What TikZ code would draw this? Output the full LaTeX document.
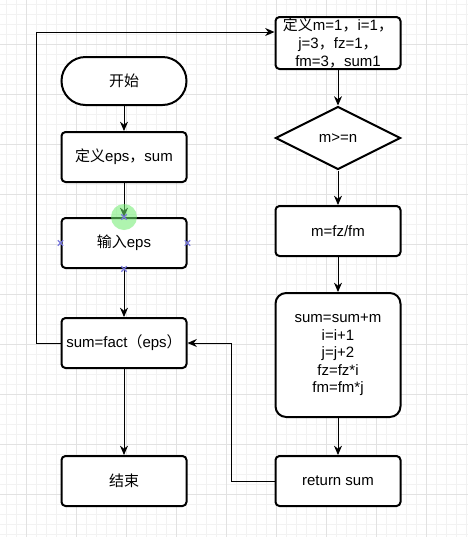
\documentclass[tikz,border=0pt]{standalone}
\usepackage{fontspec}
\setmainfont{Liberation Sans}
\newfontfamily\cjk{Noto Sans CJK SC}
\usetikzlibrary{shapes.geometric,arrows.meta}
\definecolor{minorgrid}{RGB}{242,242,242}
\definecolor{majorgrid}{RGB}{226,226,226}
\definecolor{hilite}{RGB}{110,235,110}
\definecolor{handle}{RGB}{120,120,220}
\tikzset{box/.style={draw=black, line width=1.5pt, rounded corners=3pt, fill=white,
    minimum width=93.75pt, minimum height=37.5pt, inner sep=0pt, align=center,
    font=\fontsize{11.25}{13.2}\selectfont},
  decide/.style={box, diamond, rounded corners=0pt, minimum width=93.75pt, minimum height=47.25pt},
  link/.style={draw=black, line width=0.75pt, -{Stealth[length=7pt,width=6pt]}},
  handlemark/.style={draw=handle, line width=0.9pt}}

\begin{document}
\begin{tikzpicture}[x=0.75pt, y=-0.75pt]
  \useasboundingbox (0,0) rectangle (468,537);
  % background grid
  \foreach \gx in {6,16,...,466} \draw[minorgrid, line width=0.5pt] (\gx,0) -- (\gx,537);
  \foreach \gy in {4,14,...,534} \draw[minorgrid, line width=0.5pt] (0,\gy) -- (468,\gy);
  \foreach \gx in {26,76,...,426} \draw[majorgrid, line width=0.6pt] (\gx,0) -- (\gx,537);
  \foreach \gy in {44,94,...,494} \draw[majorgrid, line width=0.6pt] (0,\gy) -- (468,\gy);

  % left column
  \node[box, rounded corners=18pt, minimum height=36pt] (start) at (124,81) {\cjk 开始};
  \node[box] (def) at (124,157) {{\cjk 定义}eps{\cjk ，}sum};
  \node[box] (input) at (124,243) {{\cjk 输入}eps};
  \node[box] (sf) at (124,343) {sum=fact{\cjk （}eps{\cjk ）}};
  \node[box] (stop) at (124,481) {\cjk 结束};

  % right column
  \node[box, minimum height=39pt] (init) at (338,43)
    {{\cjk 定义}m=1{\cjk ，}i=1{\cjk ，}\\j=3{\cjk ，}fz=1{\cjk ，}\\fm=3{\cjk ，}sum1};
  \node[decide] (test) at (338,138) {m>=n};
  \node[box] (frac) at (338,231) {m=fz/fm};
  \node[box, rounded corners=8pt, minimum height=93pt] (step) at (338,355)
    {sum=sum+m\\i=i+1\\j=j+2\\fz=fz*i\\fm=fm*j};
  \node[box] (ret) at (338,481) {return sum};

  \draw[link] (start) -- (def);
  \draw[link] (def) -- (input);
  \draw[link] (input) -- (sf);
  \draw[link] (sf) -- (stop);
  \draw[link] (sf.west) -- ++(-24,0) |- ([yshift=8.25pt]init.west);

  \draw[link] (init) -- (test);
  \draw[link] (test) -- (frac);
  \draw[link] (frac) -- (step);
  \draw[link] (step) -- (ret);
  \draw[link] (ret.west) -- ++(-43,0) |- (sf.east);

  % selection marks
  \fill[hilite, opacity=0.55] (input.north) circle (9.75pt);
  \foreach \p in {input.north, input.west, input.east, input.south}
    \draw[handlemark] ([xshift=-2pt,yshift=-2pt]\p) -- ([xshift=2pt,yshift=2pt]\p)
      ([xshift=-2pt,yshift=2pt]\p) -- ([xshift=2pt,yshift=-2pt]\p);
\end{tikzpicture}
\end{document}
